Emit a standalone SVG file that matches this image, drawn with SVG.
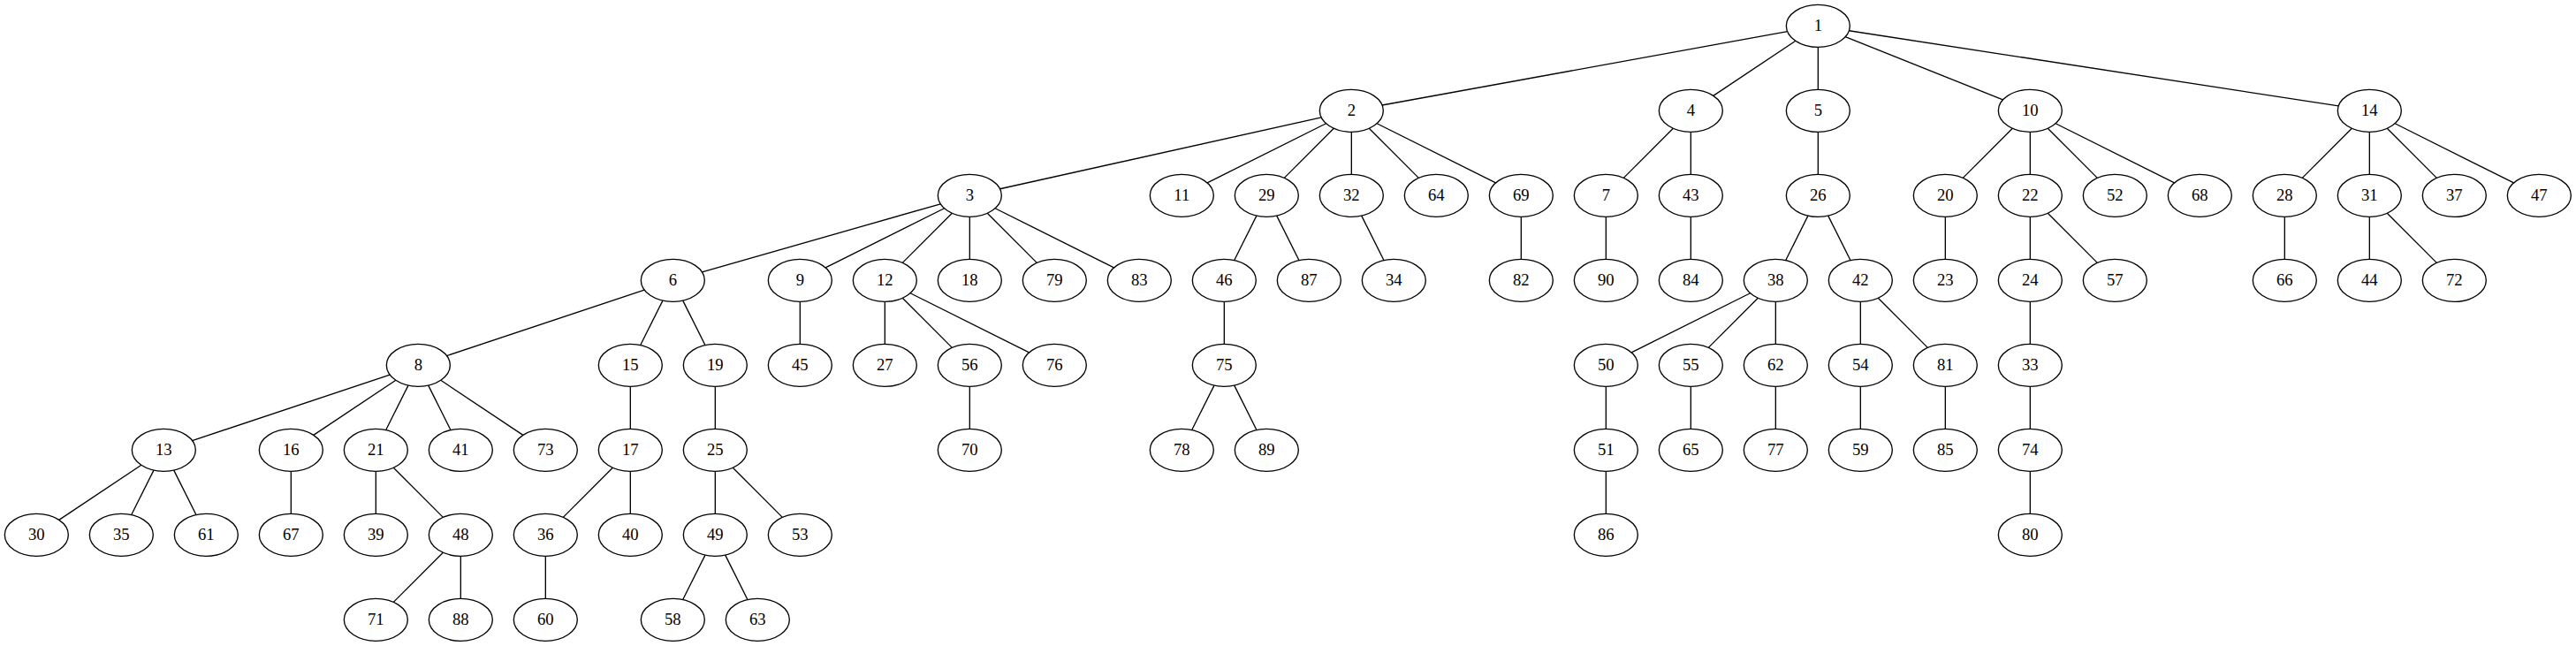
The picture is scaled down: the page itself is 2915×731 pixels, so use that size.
<svg xmlns="http://www.w3.org/2000/svg" width="2915" height="731" viewBox="0 0 2915 731">
<style>
.edges line{stroke:#000;stroke-width:1.333}
.node ellipse{fill:none;stroke:#000;stroke-width:1.333}
.node text{font-family:"Liberation Serif","Times New Roman",serif;font-size:18.67px;text-anchor:middle;fill:#000}
</style>
<rect width="2915" height="731" fill="#fff"/>
<g id="connectors" class="edges">
<line x1="2022.6" y1="35.64" x2="1564.06" y2="119.02"/>
<line x1="2031.87" y1="46.3" x2="1938.79" y2="108.36"/>
<line x1="2057.33" y1="53.33" x2="2057.33" y2="101.33"/>
<line x1="2088.2" y1="41.68" x2="2266.46" y2="112.98"/>
<line x1="2092.41" y1="34.73" x2="2646.25" y2="119.93"/>
<line x1="1495.18" y1="132.92" x2="1131.48" y2="213.74"/>
<line x1="1500.53" y1="139.73" x2="1366.13" y2="206.93"/>
<line x1="1509.36" y1="145.3" x2="1453.3" y2="201.36"/>
<line x1="1529.33" y1="149.33" x2="1529.33" y2="197.33"/>
<line x1="1549.3" y1="145.3" x2="1605.36" y2="201.36"/>
<line x1="1558.13" y1="139.73" x2="1692.53" y2="206.93"/>
<line x1="1893.36" y1="145.3" x2="1837.3" y2="201.36"/>
<line x1="1913.33" y1="149.33" x2="1913.33" y2="197.33"/>
<line x1="2057.33" y1="149.33" x2="2057.33" y2="197.33"/>
<line x1="2277.36" y1="145.3" x2="2221.3" y2="201.36"/>
<line x1="2297.33" y1="149.33" x2="2297.33" y2="197.33"/>
<line x1="2317.3" y1="145.3" x2="2373.36" y2="201.36"/>
<line x1="2326.13" y1="139.73" x2="2460.53" y2="206.93"/>
<line x1="2661.36" y1="145.3" x2="2605.3" y2="201.36"/>
<line x1="2681.33" y1="149.33" x2="2681.33" y2="197.33"/>
<line x1="2701.3" y1="145.3" x2="2757.36" y2="201.36"/>
<line x1="2710.13" y1="139.73" x2="2844.53" y2="206.93"/>
<line x1="1064.24" y1="230.78" x2="794.42" y2="307.88"/>
<line x1="1068.53" y1="235.73" x2="934.13" y2="302.93"/>
<line x1="1077.36" y1="241.3" x2="1021.3" y2="297.36"/>
<line x1="1097.33" y1="245.33" x2="1097.33" y2="293.33"/>
<line x1="1117.3" y1="241.3" x2="1173.36" y2="297.36"/>
<line x1="1126.13" y1="235.73" x2="1260.53" y2="302.93"/>
<line x1="1421.95" y1="244.1" x2="1396.71" y2="294.56"/>
<line x1="1444.71" y1="244.1" x2="1469.95" y2="294.56"/>
<line x1="1540.71" y1="244.1" x2="1565.95" y2="294.56"/>
<line x1="1721.33" y1="245.33" x2="1721.33" y2="293.33"/>
<line x1="1817.33" y1="245.33" x2="1817.33" y2="293.33"/>
<line x1="1913.33" y1="245.33" x2="1913.33" y2="293.33"/>
<line x1="2045.95" y1="244.1" x2="2020.71" y2="294.56"/>
<line x1="2068.71" y1="244.1" x2="2093.95" y2="294.56"/>
<line x1="2201.33" y1="245.33" x2="2201.33" y2="293.33"/>
<line x1="2297.33" y1="245.33" x2="2297.33" y2="293.33"/>
<line x1="2317.3" y1="241.3" x2="2373.36" y2="297.36"/>
<line x1="2585.33" y1="245.33" x2="2585.33" y2="293.33"/>
<line x1="2681.33" y1="245.33" x2="2681.33" y2="293.33"/>
<line x1="2701.3" y1="241.3" x2="2757.36" y2="297.36"/>
<line x1="729.13" y1="328.06" x2="505.53" y2="402.6"/>
<line x1="749.95" y1="340.1" x2="724.71" y2="390.56"/>
<line x1="772.71" y1="340.1" x2="797.95" y2="390.56"/>
<line x1="905.33" y1="341.33" x2="905.33" y2="389.33"/>
<line x1="1001.33" y1="341.33" x2="1001.33" y2="389.33"/>
<line x1="1021.3" y1="337.3" x2="1077.36" y2="393.36"/>
<line x1="1030.13" y1="331.73" x2="1164.53" y2="398.93"/>
<line x1="1385.33" y1="341.33" x2="1385.33" y2="389.33"/>
<line x1="1980.53" y1="331.73" x2="1846.13" y2="398.93"/>
<line x1="1989.36" y1="337.3" x2="1933.3" y2="393.36"/>
<line x1="2009.33" y1="341.33" x2="2009.33" y2="389.33"/>
<line x1="2105.33" y1="341.33" x2="2105.33" y2="389.33"/>
<line x1="2125.3" y1="337.3" x2="2181.36" y2="393.36"/>
<line x1="2297.33" y1="341.33" x2="2297.33" y2="389.33"/>
<line x1="441.13" y1="424.06" x2="217.53" y2="498.6"/>
<line x1="447.87" y1="430.3" x2="354.79" y2="492.36"/>
<line x1="461.95" y1="436.1" x2="436.71" y2="486.56"/>
<line x1="484.71" y1="436.1" x2="509.95" y2="486.56"/>
<line x1="498.79" y1="430.3" x2="591.87" y2="492.36"/>
<line x1="713.33" y1="437.33" x2="713.33" y2="485.33"/>
<line x1="809.33" y1="437.33" x2="809.33" y2="485.33"/>
<line x1="1097.33" y1="437.33" x2="1097.33" y2="485.33"/>
<line x1="1373.95" y1="436.1" x2="1348.71" y2="486.56"/>
<line x1="1396.71" y1="436.1" x2="1421.95" y2="486.56"/>
<line x1="1817.33" y1="437.33" x2="1817.33" y2="485.33"/>
<line x1="1913.33" y1="437.33" x2="1913.33" y2="485.33"/>
<line x1="2009.33" y1="437.33" x2="2009.33" y2="485.33"/>
<line x1="2105.33" y1="437.33" x2="2105.33" y2="485.33"/>
<line x1="2201.33" y1="437.33" x2="2201.33" y2="485.33"/>
<line x1="2297.33" y1="437.33" x2="2297.33" y2="485.33"/>
<line x1="159.87" y1="526.3" x2="66.79" y2="588.36"/>
<line x1="173.95" y1="532.1" x2="148.71" y2="582.56"/>
<line x1="196.71" y1="532.1" x2="221.95" y2="582.56"/>
<line x1="329.33" y1="533.33" x2="329.33" y2="581.33"/>
<line x1="425.33" y1="533.33" x2="425.33" y2="581.33"/>
<line x1="445.3" y1="529.3" x2="501.36" y2="585.36"/>
<line x1="693.36" y1="529.3" x2="637.3" y2="585.36"/>
<line x1="713.33" y1="533.33" x2="713.33" y2="581.33"/>
<line x1="809.33" y1="533.33" x2="809.33" y2="581.33"/>
<line x1="829.3" y1="529.3" x2="885.36" y2="585.36"/>
<line x1="1817.33" y1="533.33" x2="1817.33" y2="581.33"/>
<line x1="2297.33" y1="533.33" x2="2297.33" y2="581.33"/>
<line x1="501.36" y1="625.3" x2="445.3" y2="681.36"/>
<line x1="521.33" y1="629.33" x2="521.33" y2="677.33"/>
<line x1="617.33" y1="629.33" x2="617.33" y2="677.33"/>
<line x1="797.95" y1="628.1" x2="772.71" y2="678.56"/>
<line x1="820.71" y1="628.1" x2="845.95" y2="678.56"/>
</g>
<g id="nodes">
<g id="n1" class="node" transform="translate(2057.33,29.33)"><ellipse rx="36" ry="24"/><text y="6">1</text></g>
<g id="n2" class="node" transform="translate(1529.33,125.33)"><ellipse rx="36" ry="24"/><text y="6">2</text></g>
<g id="n4" class="node" transform="translate(1913.33,125.33)"><ellipse rx="36" ry="24"/><text y="6">4</text></g>
<g id="n5" class="node" transform="translate(2057.33,125.33)"><ellipse rx="36" ry="24"/><text y="6">5</text></g>
<g id="n10" class="node" transform="translate(2297.33,125.33)"><ellipse rx="36" ry="24"/><text y="6">10</text></g>
<g id="n14" class="node" transform="translate(2681.33,125.33)"><ellipse rx="36" ry="24"/><text y="6">14</text></g>
<g id="n3" class="node" transform="translate(1097.33,221.33)"><ellipse rx="36" ry="24"/><text y="6">3</text></g>
<g id="n11" class="node" transform="translate(1337.33,221.33)"><ellipse rx="36" ry="24"/><text y="6">11</text></g>
<g id="n29" class="node" transform="translate(1433.33,221.33)"><ellipse rx="36" ry="24"/><text y="6">29</text></g>
<g id="n32" class="node" transform="translate(1529.33,221.33)"><ellipse rx="36" ry="24"/><text y="6">32</text></g>
<g id="n64" class="node" transform="translate(1625.33,221.33)"><ellipse rx="36" ry="24"/><text y="6">64</text></g>
<g id="n69" class="node" transform="translate(1721.33,221.33)"><ellipse rx="36" ry="24"/><text y="6">69</text></g>
<g id="n7" class="node" transform="translate(1817.33,221.33)"><ellipse rx="36" ry="24"/><text y="6">7</text></g>
<g id="n43" class="node" transform="translate(1913.33,221.33)"><ellipse rx="36" ry="24"/><text y="6">43</text></g>
<g id="n26" class="node" transform="translate(2057.33,221.33)"><ellipse rx="36" ry="24"/><text y="6">26</text></g>
<g id="n20" class="node" transform="translate(2201.33,221.33)"><ellipse rx="36" ry="24"/><text y="6">20</text></g>
<g id="n22" class="node" transform="translate(2297.33,221.33)"><ellipse rx="36" ry="24"/><text y="6">22</text></g>
<g id="n52" class="node" transform="translate(2393.33,221.33)"><ellipse rx="36" ry="24"/><text y="6">52</text></g>
<g id="n68" class="node" transform="translate(2489.33,221.33)"><ellipse rx="36" ry="24"/><text y="6">68</text></g>
<g id="n28" class="node" transform="translate(2585.33,221.33)"><ellipse rx="36" ry="24"/><text y="6">28</text></g>
<g id="n31" class="node" transform="translate(2681.33,221.33)"><ellipse rx="36" ry="24"/><text y="6">31</text></g>
<g id="n37" class="node" transform="translate(2777.33,221.33)"><ellipse rx="36" ry="24"/><text y="6">37</text></g>
<g id="n47" class="node" transform="translate(2873.33,221.33)"><ellipse rx="36" ry="24"/><text y="6">47</text></g>
<g id="n6" class="node" transform="translate(761.33,317.33)"><ellipse rx="36" ry="24"/><text y="6">6</text></g>
<g id="n9" class="node" transform="translate(905.33,317.33)"><ellipse rx="36" ry="24"/><text y="6">9</text></g>
<g id="n12" class="node" transform="translate(1001.33,317.33)"><ellipse rx="36" ry="24"/><text y="6">12</text></g>
<g id="n18" class="node" transform="translate(1097.33,317.33)"><ellipse rx="36" ry="24"/><text y="6">18</text></g>
<g id="n79" class="node" transform="translate(1193.33,317.33)"><ellipse rx="36" ry="24"/><text y="6">79</text></g>
<g id="n83" class="node" transform="translate(1289.33,317.33)"><ellipse rx="36" ry="24"/><text y="6">83</text></g>
<g id="n46" class="node" transform="translate(1385.33,317.33)"><ellipse rx="36" ry="24"/><text y="6">46</text></g>
<g id="n87" class="node" transform="translate(1481.33,317.33)"><ellipse rx="36" ry="24"/><text y="6">87</text></g>
<g id="n34" class="node" transform="translate(1577.33,317.33)"><ellipse rx="36" ry="24"/><text y="6">34</text></g>
<g id="n82" class="node" transform="translate(1721.33,317.33)"><ellipse rx="36" ry="24"/><text y="6">82</text></g>
<g id="n90" class="node" transform="translate(1817.33,317.33)"><ellipse rx="36" ry="24"/><text y="6">90</text></g>
<g id="n84" class="node" transform="translate(1913.33,317.33)"><ellipse rx="36" ry="24"/><text y="6">84</text></g>
<g id="n38" class="node" transform="translate(2009.33,317.33)"><ellipse rx="36" ry="24"/><text y="6">38</text></g>
<g id="n42" class="node" transform="translate(2105.33,317.33)"><ellipse rx="36" ry="24"/><text y="6">42</text></g>
<g id="n23" class="node" transform="translate(2201.33,317.33)"><ellipse rx="36" ry="24"/><text y="6">23</text></g>
<g id="n24" class="node" transform="translate(2297.33,317.33)"><ellipse rx="36" ry="24"/><text y="6">24</text></g>
<g id="n57" class="node" transform="translate(2393.33,317.33)"><ellipse rx="36" ry="24"/><text y="6">57</text></g>
<g id="n66" class="node" transform="translate(2585.33,317.33)"><ellipse rx="36" ry="24"/><text y="6">66</text></g>
<g id="n44" class="node" transform="translate(2681.33,317.33)"><ellipse rx="36" ry="24"/><text y="6">44</text></g>
<g id="n72" class="node" transform="translate(2777.33,317.33)"><ellipse rx="36" ry="24"/><text y="6">72</text></g>
<g id="n8" class="node" transform="translate(473.33,413.33)"><ellipse rx="36" ry="24"/><text y="6">8</text></g>
<g id="n15" class="node" transform="translate(713.33,413.33)"><ellipse rx="36" ry="24"/><text y="6">15</text></g>
<g id="n19" class="node" transform="translate(809.33,413.33)"><ellipse rx="36" ry="24"/><text y="6">19</text></g>
<g id="n45" class="node" transform="translate(905.33,413.33)"><ellipse rx="36" ry="24"/><text y="6">45</text></g>
<g id="n27" class="node" transform="translate(1001.33,413.33)"><ellipse rx="36" ry="24"/><text y="6">27</text></g>
<g id="n56" class="node" transform="translate(1097.33,413.33)"><ellipse rx="36" ry="24"/><text y="6">56</text></g>
<g id="n76" class="node" transform="translate(1193.33,413.33)"><ellipse rx="36" ry="24"/><text y="6">76</text></g>
<g id="n75" class="node" transform="translate(1385.33,413.33)"><ellipse rx="36" ry="24"/><text y="6">75</text></g>
<g id="n50" class="node" transform="translate(1817.33,413.33)"><ellipse rx="36" ry="24"/><text y="6">50</text></g>
<g id="n55" class="node" transform="translate(1913.33,413.33)"><ellipse rx="36" ry="24"/><text y="6">55</text></g>
<g id="n62" class="node" transform="translate(2009.33,413.33)"><ellipse rx="36" ry="24"/><text y="6">62</text></g>
<g id="n54" class="node" transform="translate(2105.33,413.33)"><ellipse rx="36" ry="24"/><text y="6">54</text></g>
<g id="n81" class="node" transform="translate(2201.33,413.33)"><ellipse rx="36" ry="24"/><text y="6">81</text></g>
<g id="n33" class="node" transform="translate(2297.33,413.33)"><ellipse rx="36" ry="24"/><text y="6">33</text></g>
<g id="n13" class="node" transform="translate(185.33,509.33)"><ellipse rx="36" ry="24"/><text y="6">13</text></g>
<g id="n16" class="node" transform="translate(329.33,509.33)"><ellipse rx="36" ry="24"/><text y="6">16</text></g>
<g id="n21" class="node" transform="translate(425.33,509.33)"><ellipse rx="36" ry="24"/><text y="6">21</text></g>
<g id="n41" class="node" transform="translate(521.33,509.33)"><ellipse rx="36" ry="24"/><text y="6">41</text></g>
<g id="n73" class="node" transform="translate(617.33,509.33)"><ellipse rx="36" ry="24"/><text y="6">73</text></g>
<g id="n17" class="node" transform="translate(713.33,509.33)"><ellipse rx="36" ry="24"/><text y="6">17</text></g>
<g id="n25" class="node" transform="translate(809.33,509.33)"><ellipse rx="36" ry="24"/><text y="6">25</text></g>
<g id="n70" class="node" transform="translate(1097.33,509.33)"><ellipse rx="36" ry="24"/><text y="6">70</text></g>
<g id="n78" class="node" transform="translate(1337.33,509.33)"><ellipse rx="36" ry="24"/><text y="6">78</text></g>
<g id="n89" class="node" transform="translate(1433.33,509.33)"><ellipse rx="36" ry="24"/><text y="6">89</text></g>
<g id="n51" class="node" transform="translate(1817.33,509.33)"><ellipse rx="36" ry="24"/><text y="6">51</text></g>
<g id="n65" class="node" transform="translate(1913.33,509.33)"><ellipse rx="36" ry="24"/><text y="6">65</text></g>
<g id="n77" class="node" transform="translate(2009.33,509.33)"><ellipse rx="36" ry="24"/><text y="6">77</text></g>
<g id="n59" class="node" transform="translate(2105.33,509.33)"><ellipse rx="36" ry="24"/><text y="6">59</text></g>
<g id="n85" class="node" transform="translate(2201.33,509.33)"><ellipse rx="36" ry="24"/><text y="6">85</text></g>
<g id="n74" class="node" transform="translate(2297.33,509.33)"><ellipse rx="36" ry="24"/><text y="6">74</text></g>
<g id="n30" class="node" transform="translate(41.33,605.33)"><ellipse rx="36" ry="24"/><text y="6">30</text></g>
<g id="n35" class="node" transform="translate(137.33,605.33)"><ellipse rx="36" ry="24"/><text y="6">35</text></g>
<g id="n61" class="node" transform="translate(233.33,605.33)"><ellipse rx="36" ry="24"/><text y="6">61</text></g>
<g id="n67" class="node" transform="translate(329.33,605.33)"><ellipse rx="36" ry="24"/><text y="6">67</text></g>
<g id="n39" class="node" transform="translate(425.33,605.33)"><ellipse rx="36" ry="24"/><text y="6">39</text></g>
<g id="n48" class="node" transform="translate(521.33,605.33)"><ellipse rx="36" ry="24"/><text y="6">48</text></g>
<g id="n36" class="node" transform="translate(617.33,605.33)"><ellipse rx="36" ry="24"/><text y="6">36</text></g>
<g id="n40" class="node" transform="translate(713.33,605.33)"><ellipse rx="36" ry="24"/><text y="6">40</text></g>
<g id="n49" class="node" transform="translate(809.33,605.33)"><ellipse rx="36" ry="24"/><text y="6">49</text></g>
<g id="n53" class="node" transform="translate(905.33,605.33)"><ellipse rx="36" ry="24"/><text y="6">53</text></g>
<g id="n86" class="node" transform="translate(1817.33,605.33)"><ellipse rx="36" ry="24"/><text y="6">86</text></g>
<g id="n80" class="node" transform="translate(2297.33,605.33)"><ellipse rx="36" ry="24"/><text y="6">80</text></g>
<g id="n71" class="node" transform="translate(425.33,701.33)"><ellipse rx="36" ry="24"/><text y="6">71</text></g>
<g id="n88" class="node" transform="translate(521.33,701.33)"><ellipse rx="36" ry="24"/><text y="6">88</text></g>
<g id="n60" class="node" transform="translate(617.33,701.33)"><ellipse rx="36" ry="24"/><text y="6">60</text></g>
<g id="n58" class="node" transform="translate(761.33,701.33)"><ellipse rx="36" ry="24"/><text y="6">58</text></g>
<g id="n63" class="node" transform="translate(857.33,701.33)"><ellipse rx="36" ry="24"/><text y="6">63</text></g>
</g>
</svg>
